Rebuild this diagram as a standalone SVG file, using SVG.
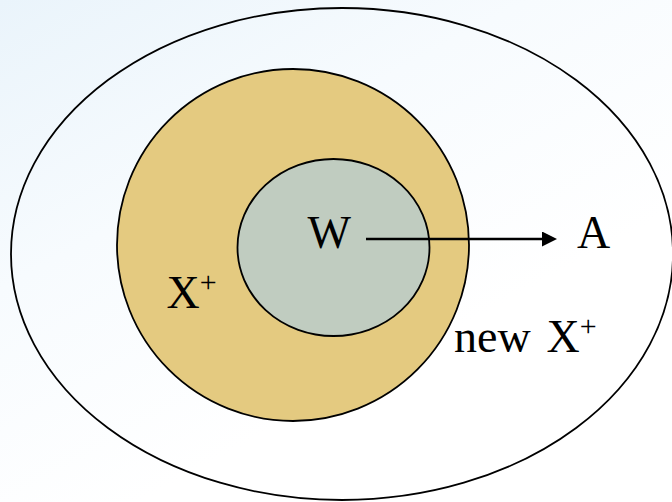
<svg xmlns="http://www.w3.org/2000/svg" width="672" height="502" viewBox="0 0 672 502">
  <defs>
    <linearGradient id="bg" x1="0" y1="0" x2="0.55" y2="0.75">
      <stop offset="0" stop-color="#EAF4FB"/>
      <stop offset="0.5" stop-color="#F7FBFE"/>
      <stop offset="1" stop-color="#FFFFFF"/>
    </linearGradient>
    <marker id="arrow" viewBox="0 0 15 15" refX="0" refY="7.5" markerWidth="15" markerHeight="15" markerUnits="userSpaceOnUse" orient="auto">
      <path d="M0,0 L15,7.5 L0,15 Z" fill="#000"/>
    </marker>
    <style>
      .shape { stroke: #000; stroke-width: 1.8; }
      .label { font-family: 'Liberation Serif', 'Times New Roman', serif; font-size: 46px; fill: #000; }
      .sup { font-size: 30px; }
      .conn { stroke: #000; stroke-width: 2.6; fill: none; }
    </style>
  </defs>
  <rect x="0" y="0" width="672" height="502" fill="url(#bg)"/>
  <g id="newXplus">
    <ellipse class="shape" cx="342" cy="254" rx="331" ry="246" fill="none"/>
    <text class="label" font-family="Liberation Serif, serif" x="454" y="351.5">new</text>
    <text class="label" font-family="Liberation Serif, serif" x="546.5" y="351.5">X<tspan class="sup" dy="-16">+</tspan></text>
  </g>
  <g id="Xplus">
    <ellipse class="shape" cx="293" cy="245" rx="176" ry="176" fill="#E4CA80"/>
    <text class="label" font-family="Liberation Serif, serif" x="166.5" y="307.5">X<tspan class="sup" dy="-16">+</tspan></text>
  </g>
  <g id="W">
    <ellipse class="shape" cx="333.5" cy="247.5" rx="96" ry="88.5" fill="#C0CCC0"/>
    <text class="label" font-family="Liberation Serif, serif" x="307.5" y="247.5">W</text>
  </g>
  <g id="A">
    <text class="label" font-family="Liberation Serif, serif" x="577" y="247.5">A</text>
  </g>
  <g id="connectors">
    <line class="conn" x1="366" y1="239" x2="542" y2="239" marker-end="url(#arrow)"/>
  </g>
</svg>
